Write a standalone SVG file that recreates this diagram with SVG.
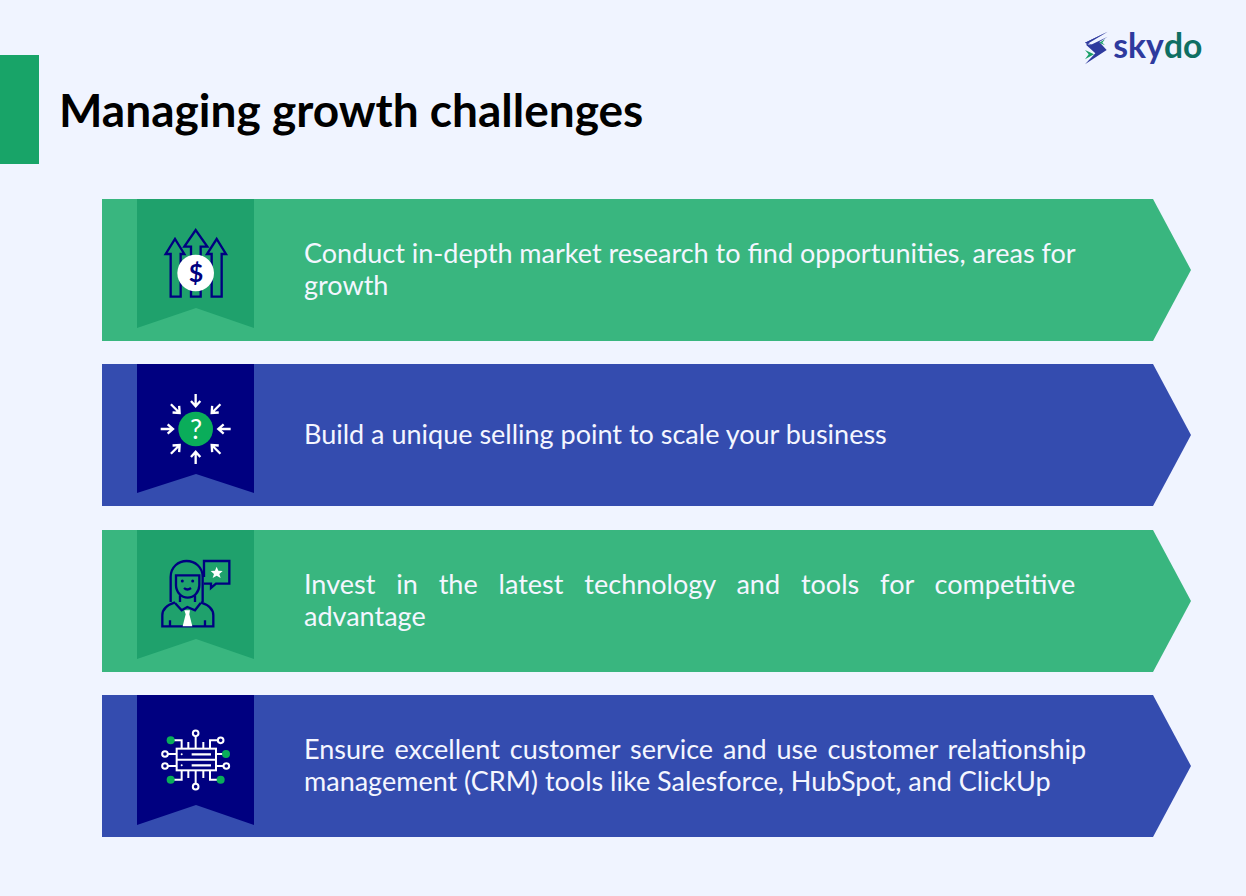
<svg xmlns="http://www.w3.org/2000/svg" width="1246" height="896" viewBox="0 0 1246 896">
<style>
.t{font-family:Lato,"Liberation Sans",sans-serif;font-size:27px;fill:#f4f6ff}
.g{fill:#39b67f}.gd{fill:#1fa16c}.b{fill:#344caf}.bd{fill:#000080}
.nv{fill:none;stroke:#000080;stroke-width:7;stroke-linejoin:miter}
.wh{fill:none;stroke:#fff;stroke-width:6}
</style>
<defs>
<g id="ar"><path d="M0,-105V-68M-14,-84L0,-68L14,-84" fill="none" stroke="#fff" stroke-width="7"/></g>
</defs>
<rect width="1246" height="896" fill="#f0f4ff"/>
<g id="header">
<rect x="0" y="55" width="39" height="109" fill="#18a468"/>
<text x="59" y="127" font-family="Lato,'Liberation Sans',sans-serif" font-weight="700" font-size="46" fill="#000">Managing growth challenges</text>
</g>
<g id="logo" transform="translate(1070,20) scale(.3333)">
<path d="M113,35L45,68L92,86L52,68Z" fill="#2e3a9e"/>
<path d="M113,35L45,68L60,76L113,50L88,66L110,90L45,133L76,100L48,74Z" fill="#2e3a9e"/>
<path d="M105,58L88,68L105,76L97,68Z" fill="#1aa068"/>
<path d="M45,90L72,103L45,118L56,103Z" fill="#1aa068"/>
<text x="130" y="113" font-family="Lato,'Liberation Sans',sans-serif" font-weight="700" font-size="101"><tspan fill="#2e3a9e">sky</tspan><tspan fill="#0f6f63">do</tspan></text>
</g>
<g id="node1">
<path class="g" d="M102,199H1153L1191,270L1153,341H102Z"/>
<path class="gd" d="M137,199H254V328L196,308L137,328Z"/>
<g transform="translate(130,195) scale(.3333)">
<path class="nv" d="M122,305V177H107L135,132L163,177H152V305Z"/>
<path class="nv" d="M183,305V155H163L197,105L232,155H212V305Z"/>
<path class="nv" d="M245,305V177H231L260,132L288,177H275V305Z"/>
<circle cx="197" cy="234" r="55" fill="#fff"/>
</g>
<text x="196" y="282" text-anchor="middle" font-family="Lato,'Liberation Sans',sans-serif" font-weight="700" font-size="25" fill="#000080">$</text>
<text class="t"><tspan x="304" y="263">Conduct in-depth market research to find opportunities, areas for</tspan><tspan x="304" y="295">growth</tspan></text>
</g>
<g id="node2">
<path class="b" d="M102,364H1153L1191,435L1153,506H102Z"/>
<path class="bd" d="M137,364H254V493L196,474L137,493Z"/>
<g transform="translate(130,360) scale(.3333)">
<circle cx="197" cy="207" r="52" fill="#0aad5a"/>
<g transform="translate(197,207)">
<use href="#ar"/><use href="#ar" transform="rotate(45)"/><use href="#ar" transform="rotate(90)"/><use href="#ar" transform="rotate(135)"/><use href="#ar" transform="rotate(180)"/><use href="#ar" transform="rotate(225)"/><use href="#ar" transform="rotate(270)"/><use href="#ar" transform="rotate(315)"/>
</g>
</g>
<text x="196" y="439" text-anchor="middle" font-family="Lato,'Liberation Sans',sans-serif" font-size="27" fill="#fff">?</text>
<text class="t" x="304" y="444">Build a unique selling point to scale your business</text>
</g>
<g id="node3">
<path class="g" d="M102,530H1153L1191,601L1153,672H102Z"/>
<path class="gd" d="M137,530H254V659L196,639L137,659Z"/>
<g transform="translate(130,527) scale(.3333)">
<g fill="none" stroke="#000080" stroke-width="7">
<path d="M122,225V150C122,120 145,102 170,102C195,102 218,120 218,150V225"/>
<path d="M138,145H208V175C208,195 192,212 173,212C154,212 138,195 138,175Z"/>
<path d="M162,183Q172,192 183,183"/>
<path d="M150,205V225M195,205V225"/>
<path d="M135,228L155,250L172,240L195,250L212,228"/>
<path d="M135,226Q97,238 97,265V298H250V265Q250,238 212,226"/>
<path d="M120,280V298M225,280V298"/>
<path d="M222,150V102H298V170H258L243,183V170H222"/>
</g>
<circle cx="157" cy="162" r="4.5" fill="#000080"/><circle cx="188" cy="162" r="4.5" fill="#000080"/>
<path d="M163,250H180L178,262L187,298H158L167,262Z" fill="#fff"/>
<path d="M260,119L265,131L278,132L268,141L272,153L260,146L248,153L252,141L242,132L255,131Z" fill="#fff"/>
</g>
<text class="t"><tspan x="304" y="594" word-spacing="14">Invest in the latest technology and tools for competitive</tspan><tspan x="304" y="626">advantage</tspan></text>
</g>
<g id="node4">
<path class="b" d="M102,695H1153L1191,766L1153,837H102Z"/>
<path class="bd" d="M137,695H254V825L196,805L137,825Z"/>
<g transform="translate(130,692) scale(.3333)">
<g class="wh">
<rect x="140" y="170" width="118" height="65"/>
<path d="M140,203H258"/>
<path d="M185,187H243M185,220H243" stroke-width="7"/>
<path d="M175,150V170M220,150V170M197,133V170M175,235V258M220,235V258M197,235V275"/>
<path d="M113,186H140M113,222H140M258,186H288M258,222H280"/>
<path d="M122,145H155V170M263,145H240V170M122,263H155V235M272,263H240V235"/>
<circle cx="197" cy="124" r="8.5"/><circle cx="197" cy="284" r="8.5"/>
<circle cx="105" cy="186" r="8.5"/><circle cx="105" cy="222" r="8.5"/>
<circle cx="289" cy="222" r="8.5"/><circle cx="272" cy="145" r="8.5"/>
</g>
<circle cx="155" cy="187" r="3" fill="#fff"/><circle cx="155" cy="220" r="3" fill="#fff"/>
<g fill="#0aad5a"><circle cx="122" cy="145" r="12"/><circle cx="288" cy="186" r="12"/><circle cx="122" cy="263" r="12"/><circle cx="272" cy="263" r="12"/></g>
</g>
<text class="t"><tspan x="304" y="759" word-spacing="3">Ensure excellent customer service and use customer relationship</tspan><tspan x="304" y="791">management (CRM) tools like Salesforce, HubSpot, and ClickUp</tspan></text>
</g>
</svg>
